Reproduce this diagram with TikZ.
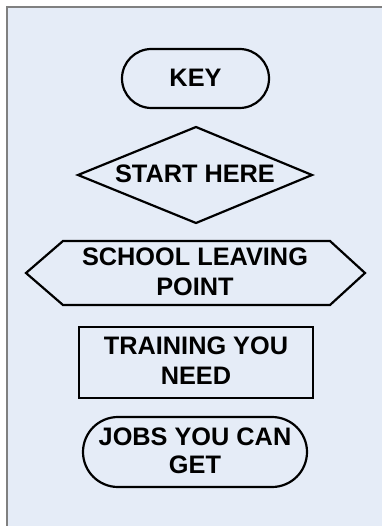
\documentclass[tikz,border=0pt]{standalone}
\usepackage{fontspec}
\setmainfont{Liberation Sans}
\definecolor{panelbg}{RGB}{229,236,247}
\definecolor{panelrule}{RGB}{128,128,128}
\begin{document}
\begin{tikzpicture}[x=1pt,y=-1pt,
  shapeline/.style={draw=black,line width=2.2pt,line join=miter},
  lbl/.style={font=\fontsize{25.3}{30}\selectfont\bfseries,align=center,inner sep=0pt,text=black}]
\useasboundingbox (0,0) rectangle (383,526);
% panel
\fill[panelbg] (7,7) rectangle (382,526);
\draw[panelrule,line width=2pt] (7,526) -- (7,7) -- (382,7);
% KEY terminator
\draw[shapeline,rounded corners=29.5pt] (122,49) rectangle (269,108);
\node[lbl] (key) at (195.5,77.5) {KEY};
% START HERE diamond
\draw[shapeline] (78,175) -- (196,127) -- (312,175) -- (196,223) -- cycle;
\node[lbl] (start) at (195,174) {START HERE};
% SCHOOL LEAVING POINT hexagon
\draw[shapeline] (26,273) -- (63,241) -- (330,241) -- (365,273) -- (330,305) -- (63,305) -- cycle;
\node[lbl] (school) at (195,272) {SCHOOL LEAVING\\POINT};
% TRAINING rectangle
\draw[shapeline] (79,327) rectangle (313,398);
\node[lbl] (training) at (196,361) {TRAINING YOU\\NEED};
% JOBS terminator
\draw[shapeline,rounded corners=35pt] (83,417) rectangle (307,487);
\node[lbl,font=\fontsize{25.3}{27.5}\selectfont\bfseries] (jobs) at (195,451) {JOBS YOU CAN\\GET};
\end{tikzpicture}
\end{document}
